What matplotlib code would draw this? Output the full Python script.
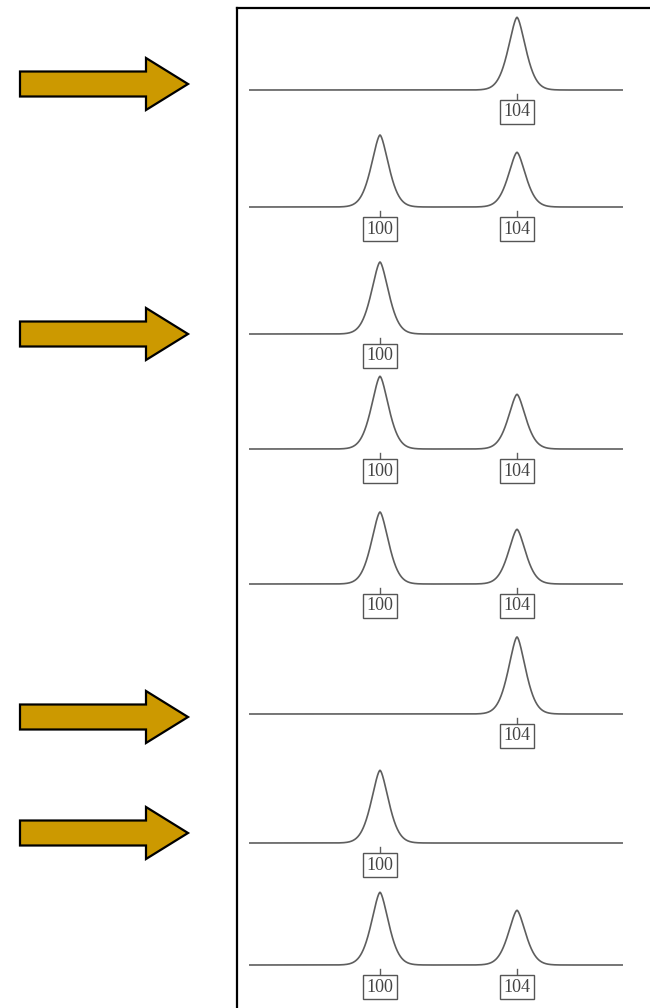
import numpy as np
import matplotlib.pyplot as plt
from matplotlib.patches import FancyArrow

# m/z of the two ions and the scan window
peak_mz = [100, 104]
mz_start, mz_end = 96.2, 107.07

# relative peak heights per scan (top to bottom), 0 = absent
height_100 = [0, 100, 100, 101, 100, 0, 101, 101]
height_104 = [101, 76, 0, 76, 76, 107, 0, 76]

# vertical position of each scan baseline (px from top)
baselines = [90, 207, 334, 449, 584, 714, 843, 965]

# arrows pointing at the single-ion scans
arrow_y = [84, 334, 717, 833]

W, H = 650, 1008
px_per_mz = 34.25
x0_px = 380  # where m/z 100 sits
width = 0.37  # peak half-width parameter (m/z)
power = 1.6   # peak sharpness
scale = 0.72  # px per unit of relative height
line_col = '#5e5e5e'

fig = plt.figure(figsize=(W / 100, H / 100), dpi=100)

# Right panel: spectra
left = 237 / W
ax = fig.add_axes([left, 0, 1 - left, 1 - 8 / H])
ax.set_xlim(100 + (237 - x0_px) / px_per_mz, 100 + (W - x0_px) / px_per_mz)
ax.set_ylim(H, 8)
ax.set_xticks([])
ax.set_yticks([])
for s in ['right', 'bottom']:
    ax.spines[s].set_visible(False)
for s in ['left', 'top']:
    ax.spines[s].set_linewidth(1.6)
    ax.spines[s].set_color('black')

mz = np.linspace(mz_start, mz_end, 2000)
for i, base in enumerate(baselines):
    signal = np.zeros_like(mz)
    for pm, h in zip(peak_mz, [height_100[i], height_104[i]]):
        if h > 0:
            signal += h * np.exp(-(np.abs(mz - pm) / width) ** power)
            ax.plot([pm, pm], [base + 4, base + 10], color=line_col, lw=1.0)
            ax.text(pm, base + 13.5, str(pm), ha='center', va='top',
                    fontsize=13, family='Liberation Serif', color='#444444',
                    bbox=dict(boxstyle='square,pad=0.2', fc='white',
                              ec='#555555', lw=1.0))
    ax.plot(mz, base - scale * signal, color=line_col, lw=1.2)

# Left panel: arrows
axl = fig.add_axes([0, 0, left, 1])
axl.set_xlim(0, 237)
axl.set_ylim(H, 0)
axl.axis('off')
for y in arrow_y:
    axl.add_patch(FancyArrow(20, y, 168, 0, width=25, head_width=52,
                             head_length=42, length_includes_head=True,
                             fc='#CC9900', ec='black', lw=1.6))

fig.savefig('out.png', dpi=100)
